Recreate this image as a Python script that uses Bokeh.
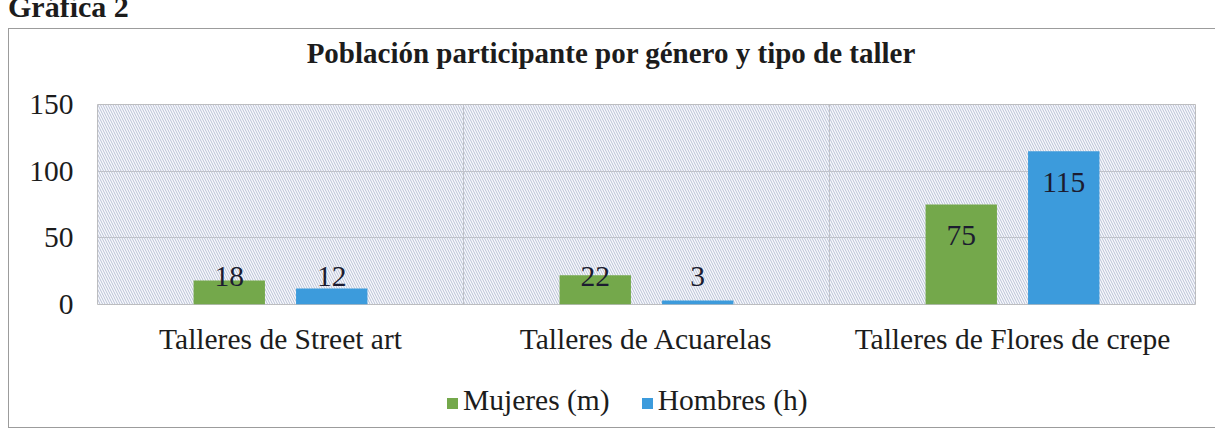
from bokeh.plotting import figure
from bokeh.models import (ColumnDataSource, FactorRange, Range1d, FixedTicker,
                          BoxAnnotation, Div)
from bokeh.layouts import column
from bokeh.transform import dodge
from bokeh.core.properties import value
from bokeh.embed import file_html
from bokeh.resources import INLINE

# ---- data ----
chart_label = "Gráfica 2"
chart_title = "Población participante por género y tipo de taller"
categories = ["Talleres de Street art", "Talleres de Acuarelas", "Talleres de Flores de crepe"]
series_names = ["Mujeres (m)", "Hombres (h)"]
mujeres = [18, 22, 75]
hombres = [12, 3, 115]
y_ticks = [0, 50, 100, 150]

# ---- style ----
FONT = "Liberation Serif"
GREEN = "#74a84b"
BLUE = "#3c9bdc"
TEXT = "#1c1c1c"
LABEL_COLOR = "#1c1c30"
FRAME = "1px solid #9c9c9c"
FS = "29.5px"
W = 1207
label_inside = [False, False, True]   # per category: label inside bar top (else near base)

p = figure(x_range=FactorRange(*categories), y_range=Range1d(0, 150),
           width=W, height=293, output_backend="svg", toolbar_location=None,
           min_border_left=88, min_border_right=21, min_border_top=28, min_border_bottom=65,
           margin=(0, 0, 0, 8),
           styles={"border-left": FRAME})

p.background_fill_color = "#f8f9fc"
p.border_fill_color = "white"
p.outline_line_color = "#bdbdbd"
p.outline_line_width = 1

# hatched plot area
p.add_layout(BoxAnnotation(fill_alpha=0, line_alpha=0, hatch_pattern="\\",
                           hatch_color="#b9c1d6", hatch_scale=5, hatch_weight=1,
                           level="underlay"))

p.ygrid.ticker = FixedTicker(ticks=y_ticks)
p.ygrid.grid_line_color = "#c2c2c2"
p.xgrid.ticker = FixedTicker(ticks=[1, 2])
p.xgrid.grid_line_color = "#c2c2c2"

src = ColumnDataSource(dict(cat=categories, m=mujeres, h=hombres))
rm = p.vbar(x=dodge("cat", -0.14, range=p.x_range), top="m", width=0.195,
            source=src, fill_color=GREEN, line_color=None)
rh = p.vbar(x=dodge("cat", 0.14, range=p.x_range), top="h", width=0.195,
            source=src, fill_color=BLUE, line_color=None)

for vals, off in ((mujeres, -0.14), (hombres, 0.14)):
    ls = ColumnDataSource(dict(
        cat=categories,
        txt=[str(v) for v in vals],
        y=[v if ins else 0 for v, ins in zip(vals, label_inside)],
        dy=[31 if ins else -28 for ins in label_inside],
    ))
    p.text(x=dodge("cat", off, range=p.x_range), y="y", text="txt", y_offset="dy",
           source=ls, text_align="center", text_baseline="middle",
           text_font=value(FONT), text_font_size=FS, text_color=LABEL_COLOR)

for ax in (p.xaxis[0], p.yaxis[0]):
    ax.axis_line_color = None
    ax.major_tick_line_color = None
    ax.minor_tick_line_color = None
    ax.major_tick_out = 0
    ax.major_label_text_font = FONT
    ax.major_label_text_font_size = FS
    ax.major_label_text_color = TEXT
p.yaxis.ticker = FixedTicker(ticks=y_ticks)
p.yaxis.major_label_standoff = 24
p.xaxis.major_label_standoff = 18

header = Div(text='<span style="position:relative; left:8px; top:-3px; font-family:\'Liberation Serif\'; '
                  'font-weight:bold; font-size:30px; line-height:20px; color:#1c1c1c; white-space:nowrap">'
                  + chart_label + '</span>',
             width=300, height=28, margin=0)

title_div = Div(text='<div style="width:1204px; text-align:center; padding-top:10px; '
                     'font-family:\'Liberation Serif\'; font-weight:bold; font-size:29px; '
                     'line-height:29px; color:#1c1c1c; white-space:nowrap">' + chart_title + '</div>',
                width=W, height=48, margin=(0, 0, 0, 8),
                styles={"border-left": FRAME, "border-top": FRAME, "background": "white"})

def legend_entry(name, color, gap):
    return ('<span style="display:inline-block; width:11px; height:11px; background:%s; '
            'margin-right:5px; vertical-align:1px"></span>'
            '<span style="margin-right:%dpx">%s</span>' % (color, gap, name))

legend_html = ('<div style="padding-left:438px; padding-top:16px; font-family:\'Liberation Serif\'; '
               'font-size:29.5px; line-height:30px; color:#1c1c1c; white-space:nowrap">'
               + legend_entry(series_names[0], GREEN, 32) + legend_entry(series_names[1], BLUE, 0)
               + '</div>')
legend_div = Div(text=legend_html, width=W, height=59, margin=(0, 0, 0, 8),
                 styles={"border-left": FRAME, "border-bottom": FRAME, "background": "white"})

layout = column(header, title_div, p, legend_div, spacing=0)
open("out.html", "w").write(file_html(layout, INLINE))
